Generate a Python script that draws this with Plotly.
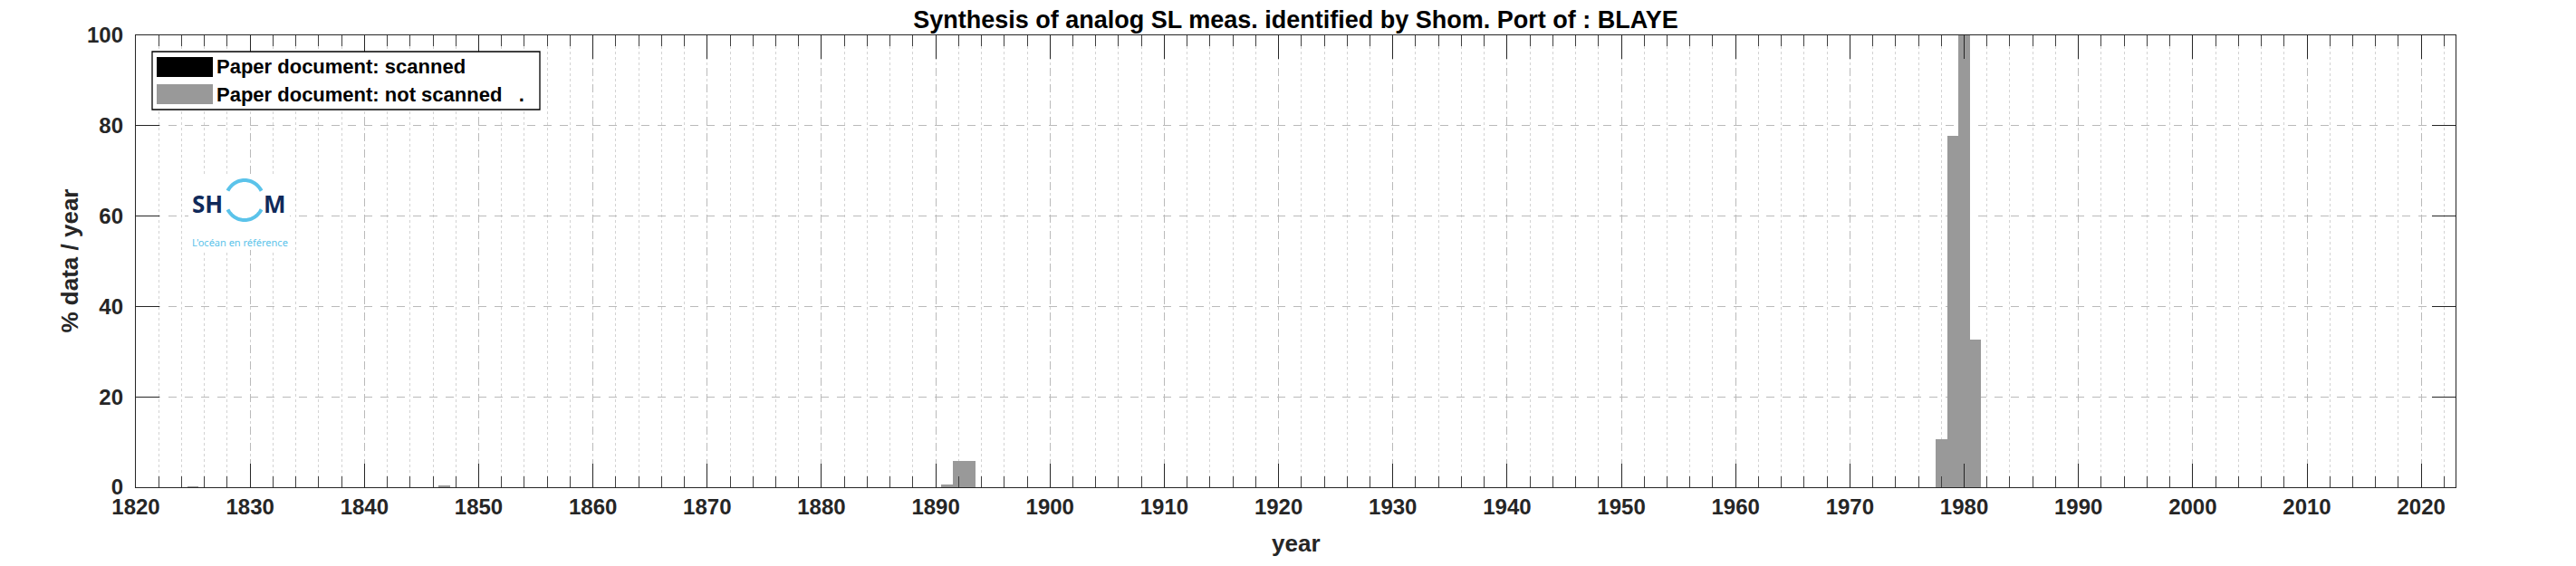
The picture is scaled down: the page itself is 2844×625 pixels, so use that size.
import numpy as np
import plotly.graph_objects as go

# ---------------- data ----------------
years_not_scanned = [1825, 1847, 1891, 1892, 1893, 1978, 1979, 1980, 1981]
pct_not_scanned = [0.2, 0.4, 0.6, 5.9, 5.9, 10.6, 77.8, 100.0, 32.6]
years_scanned = []
pct_scanned = []

x_ticks = list(range(1820, 2021, 10))
y_ticks = [0, 20, 40, 60, 80, 100]

title_text = "Synthesis of analog SL meas. identified by Shom. Port of : BLAYE"
legend_labels = ["Paper document: scanned", "Paper document: not scanned   ."]
x_title = "year"
y_title = "% data / year"

# ---------------- layout geometry (pixels) ----------------
W, H = 2844, 625
L, R, T, B = 142, 2703, 31, 530
PW, PH = R - L, B - T


def px(x):
    return (x - L) / PW


def py(y):
    return (B - y) / PH


FONT = "Liberation Sans, Arial, sans-serif"
TXT = "#262626"

fig = go.Figure()
fig.add_trace(go.Bar(x=years_scanned, y=pct_scanned, width=1, name=legend_labels[0],
                     marker=dict(color="#000000", line=dict(width=0)), showlegend=False))
fig.add_trace(go.Bar(x=years_not_scanned, y=pct_not_scanned, width=1, name=legend_labels[1],
                     marker=dict(color="#999999", line=dict(width=0)), showlegend=False))

axis_common = dict(
    ticks="inside", ticklen=26, tickwidth=1, tickcolor=TXT,
    showline=True, linecolor=TXT, linewidth=1.3, mirror="allticks",
    showgrid=True, gridcolor="#bababa", griddash="dash", gridwidth=1,
    zeroline=False,
    tickfont=dict(family=FONT, size=24, color=TXT, weight="bold"),
)

fig.update_layout(
    width=W, height=H,
    margin=dict(l=L, r=W - R, t=T, b=H - B, pad=0),
    paper_bgcolor="white", plot_bgcolor="white",
    bargap=0, barmode="overlay",
    showlegend=False,
    title=dict(text=title_text, x=px((L + R) / 2), xref="paper", xanchor="center",
               y=1 - 14 / H, yref="container", yanchor="middle",
               font=dict(family=FONT, size=27, color="#000000", weight="bold")),
    xaxis=dict(range=[1820, 2023], tickvals=x_ticks, ticklabelstandoff=0,
               minor=dict(dtick=2, tick0=1820, ticks="inside", ticklen=12,
                          tickcolor="#404040", tickwidth=1, showgrid=True,
                          gridcolor="#d3d3d3", griddash="dot", gridwidth=1),
               **axis_common),
    yaxis=dict(range=[0, 100], tickvals=y_ticks, ticklabelstandoff=8, **axis_common),
)

shapes = []
annotations = []

# axis titles
annotations.append(dict(text=x_title, x=px((L + R) / 2), y=py(592), xref="paper", yref="paper",
                        xanchor="center", yanchor="middle", showarrow=False,
                        font=dict(family=FONT, size=26, color=TXT, weight="bold")))
annotations.append(dict(text=y_title, x=px(68), y=py((T + B) / 2), xref="paper", yref="paper",
                        xanchor="center", yanchor="middle", showarrow=False, textangle=-90,
                        font=dict(family=FONT, size=26, color=TXT, weight="bold")))

# custom legend (MATLAB style)
shapes.append(dict(type="rect", xref="paper", yref="paper", x0=px(160), x1=px(588),
                   y0=py(49), y1=py(113), fillcolor="white",
                   line=dict(color="#000000", width=1.3), layer="above"))
patch_colors = ["#000000", "#999999"]
rows = [(55, 77), (85, 107)]
for (y0, y1), c, lab in zip(rows, patch_colors, legend_labels):
    shapes.append(dict(type="rect", xref="paper", yref="paper", x0=px(165), x1=px(227),
                       y0=py(y1), y1=py(y0), fillcolor=c, line=dict(width=0), layer="above"))
    annotations.append(dict(text=lab, x=px(229), y=py((y0 + y1) / 2), xref="paper", yref="paper",
                            xanchor="left", yanchor="middle", showarrow=False,
                            font=dict(family=FONT, size=22, color="#000000", weight="bold")))

# SHOM logo
shapes.append(dict(type="rect", xref="paper", yref="paper", x0=px(200), x1=px(312),
                   y0=py(268), y1=py(186), fillcolor="white", line=dict(width=0), layer="above"))
cx, cy, rx, ry = 262, 213, 21, 22
for a0, a1 in [(28, 152), (208, 332)]:
    ang = np.radians(np.linspace(a0, a1, 40))
    pts = [(px(cx + rx * np.cos(a)), py(cy - ry * np.sin(a))) for a in ang]
    path = "M " + " L ".join(f"{x:.6f},{y:.6f}" for x, y in pts)
    shapes.append(dict(type="path", xref="paper", yref="paper", path=path,
                       line=dict(color="#5bc3ea", width=4), layer="above"))
LOGO_FONT = "Noto Sans, Open Sans, sans-serif"
annotations.append(dict(text="SH", x=px(221), y=py(217), xref="paper", yref="paper",
                        xanchor="center", yanchor="middle", showarrow=False,
                        font=dict(family=LOGO_FONT, size=26, color="#10295a", weight="bold")))
annotations.append(dict(text="M", x=px(295), y=py(217), xref="paper", yref="paper",
                        xanchor="center", yanchor="middle", showarrow=False,
                        font=dict(family=LOGO_FONT, size=26, color="#10295a", weight="bold")))
annotations.append(dict(text="L'océan en référence", x=px(257), y=py(259), xref="paper", yref="paper",
                        xanchor="center", yanchor="middle", showarrow=False,
                        font=dict(family=LOGO_FONT, size=11, color="#5bc3ea")))

fig.update_layout(shapes=shapes, annotations=annotations)
fig.write_html("out.html")
